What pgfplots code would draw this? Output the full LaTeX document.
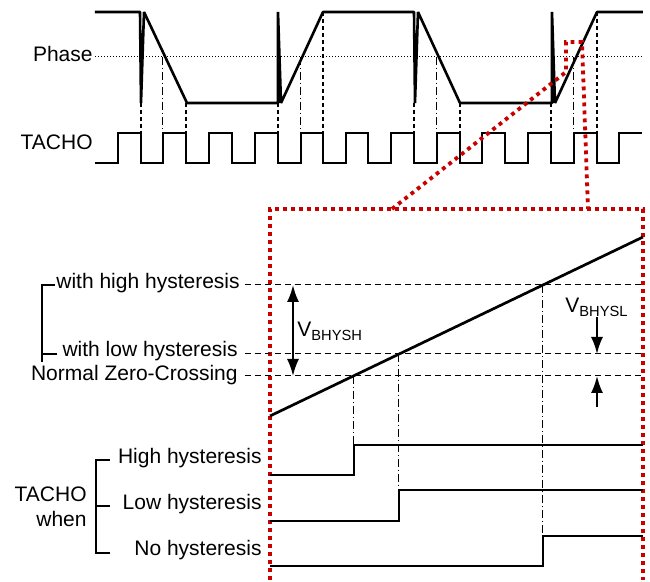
\documentclass[border=0pt]{standalone}
\usepackage{pgfplots}
\pgfplotsset{compat=1.18}
\usepackage{fontspec}
\setmainfont{Liberation Sans}
\usetikzlibrary{arrows.meta}
\definecolor{dred}{RGB}{200,0,0}
\begin{document}
\begin{tikzpicture}
\begin{axis}[x=0.5pt,y=0.5pt,y dir=reverse,xmin=0,xmax=650,ymin=0,ymax=580,
  hide axis,clip=false,unbounded coords=jump,
  every axis plot/.append style={mark=none},
  nodes={font=\fontsize{10.5}{12.6}\selectfont,inner sep=0pt}]
% frame for bounding box
\addplot[draw=none] coordinates {(0,0)(650,580)};
% Phase reference dotted line
\addplot[black,line width=0.5pt,dash pattern=on 0.5pt off 1pt] coordinates {(95,57)(643,57)};
% Phase signal
\addplot[black,line width=1.3pt,line join=bevel] coordinates {
(95,12)(140,12)(141,103)(144,12)(187,103)(278,103)(278,12)(281,103)(323,12)
(414,12)(415,103)(418,12)(460,103)(552,103)(552,12)(555,103)(597,12)(643,12)};
% TACHO square wave
\addplot[black,line width=1.35pt] coordinates {
(95,163)(118,163)(118,133)(141,133)(141,163)(163,163)(163,133)(186,133)(186,163)
(209,163)(209,133)(232,133)(232,163)(255,163)(255,133)(278,133)(278,163)
(301,163)(301,133)(323,133)(323,163)(346,163)(346,133)(368,133)(368,163)
(391,163)(391,133)(414,133)(414,163)(437,163)(437,133)(460,133)(460,163)
(482,163)(482,133)(505,133)(505,163)(528,163)(528,133)(551,133)(551,163)
(574,163)(574,133)(597,133)(597,163)(619,163)(619,133)(642,133)};
% dashed connectors
\addplot[black,line width=0.6pt,dash pattern=on 2pt off 1.5pt] coordinates {
(141,103)(141,133)(141,nan)(186,103)(186,133)(186,nan)(278,103)(278,133)(278,nan)
(323,12)(323,133)(323,nan)(414,103)(414,133)(414,nan)(460,103)(460,133)(460,nan)
(551,103)(551,133)(551,nan)(597,12)(597,133)};
% dash-dot connectors
\addplot[black,line width=0.5pt,dash pattern=on 4pt off 1.5pt on 0.5pt off 1.5pt] coordinates {
(163,57)(163,133)(163,nan)(301,57)(301,133)(301,nan)(437,57)(437,133)(437,nan)(574,57)(574,133)};
% red zoom indicators
\addplot[dred,line width=1.9pt,dash pattern=on 1.9pt off 2.1pt] coordinates {
(392,209)(566,72)(566,42)(582,42)(588,209)};
\addplot[dred,line width=1.9pt,dash pattern=on 1.9pt off 2.1pt] coordinates {
(270,580)(270,209)(643,209)(643,580)};
% threshold dashed lines
\addplot[black,line width=0.5pt,dash pattern=on 3pt off 2pt] coordinates {
(245,285)(643,285)(643,nan)(245,354)(643,354)(643,nan)(245,376)(643,376)};
% ramp
\addplot[black,line width=1.35pt] coordinates {(270,416)(643,237)};
% dash-dot verticals lower
\addplot[black,line width=0.5pt,dash pattern=on 4pt off 1.5pt on 0.5pt off 1.5pt] coordinates {
(354,376)(354,445)(354,nan)(399,354)(399,490)(399,nan)(543,285)(543,536)};
% TACHO when signals
\addplot[black,line width=1.35pt] coordinates {(270,475)(354,475)(354,445)(643,445)};
\addplot[black,line width=1.35pt] coordinates {(270,521)(399,521)(399,490)(643,490)};
\addplot[black,line width=1.35pt] coordinates {(270,566)(543,566)(543,536)(643,536)};
% arrows
\addplot[black,line width=1pt,{Latex[length=8.5pt,width=6pt]}-{Latex[length=8.5pt,width=6pt]}] coordinates {(293,285)(293,376)};
\addplot[black,line width=1pt,-{Latex[length=8.5pt,width=6pt]}] coordinates {(597,317)(597,354)};
\addplot[black,line width=1pt,-{Latex[length=8.5pt,width=6pt]}] coordinates {(597,407)(597,376)};
% brackets
\addplot[black,line width=0.6pt] coordinates {(55,285)(42,285)(42,362)(42,nan)(42,354)(57,354)};
\addplot[black,line width=0.6pt] coordinates {(110,460)(96,460)(96,553)(110,553)(110,nan)(96,506)(110,506)};
% labels
\node[anchor=base east] at (axis cs:93,62) {Phase};
\node[anchor=base east] at (axis cs:93,150) {TACHO};
\node[anchor=base west] at (axis cs:56,289) {with high hysteresis};
\node[anchor=base east] at (axis cs:238,357) {with low hysteresis};
\node[anchor=base east] at (axis cs:238,381) {Normal Zero-Crossing};
\node[anchor=base east] at (axis cs:262,464) {High hysteresis};
\node[anchor=base east] at (axis cs:262,510) {Low hysteresis};
\node[anchor=base east] at (axis cs:262,556) {No hysteresis};
\node[anchor=base east] at (axis cs:87,502) {TACHO};
\node[anchor=base east] at (axis cs:87,527) {when};
\node[anchor=base west] at (axis cs:297,337) {V\textsubscript{BHYSH}};
\node[anchor=base west] at (axis cs:565,313) {V\textsubscript{BHYSL}};
\end{axis}
\end{tikzpicture}
\end{document}
